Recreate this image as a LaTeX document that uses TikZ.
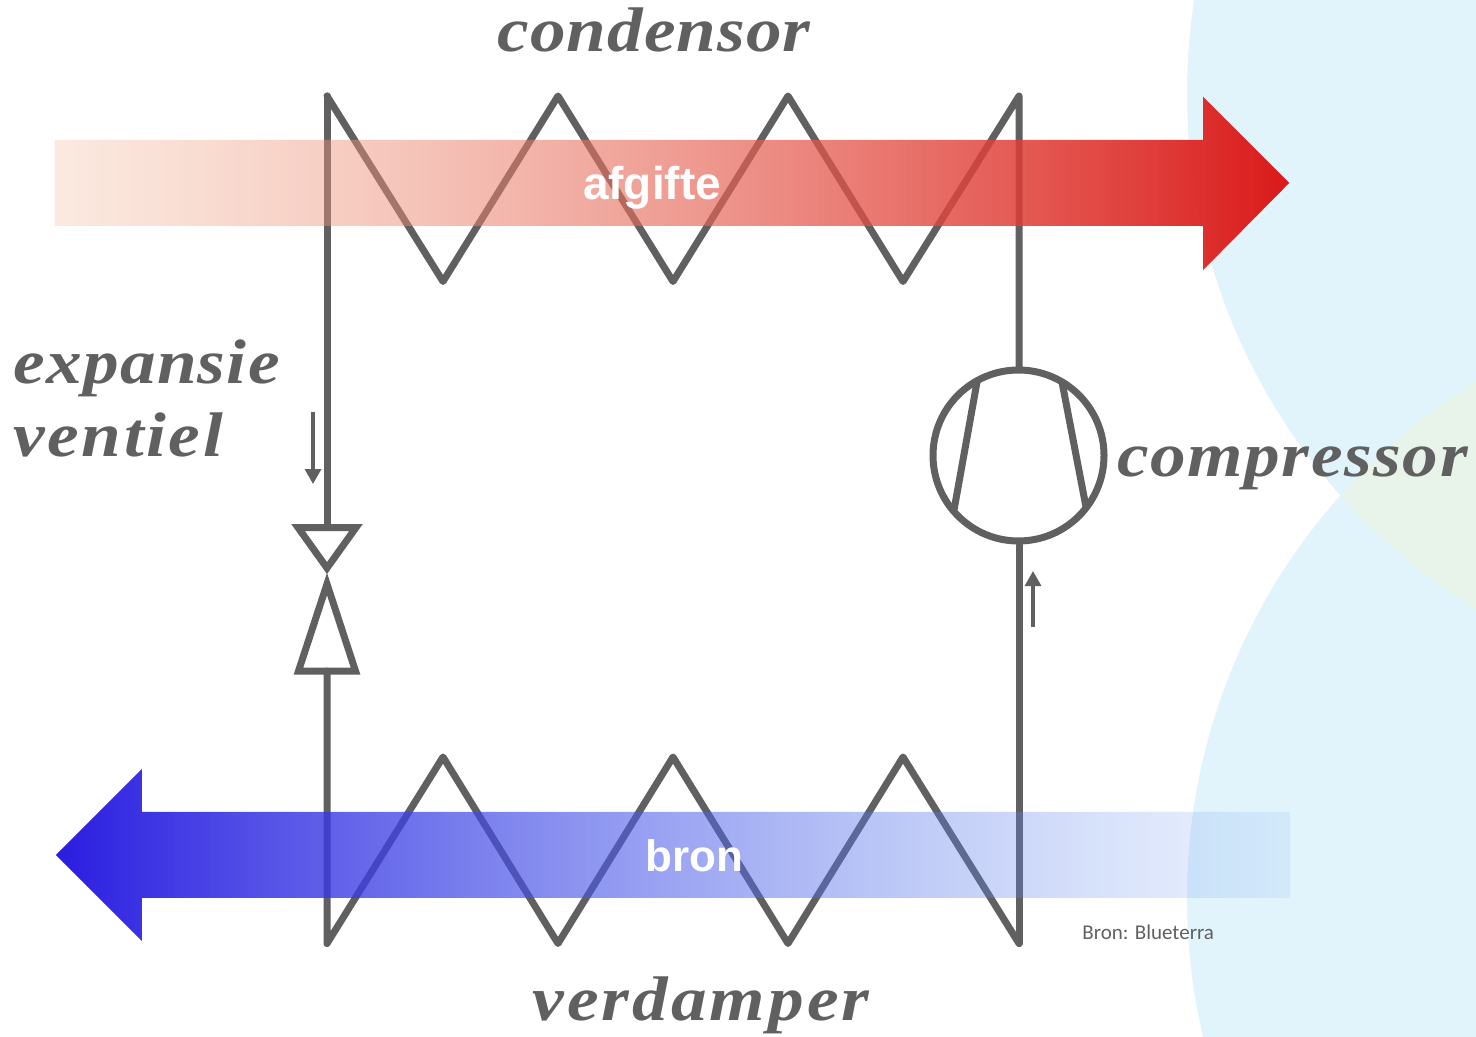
\documentclass[tikz,border=0pt]{standalone}
\usepackage{fontspec}
\setmainfont{Liberation Serif}
\newfontfamily\lblfont[FakeStretch=1.13,LetterSpace=1.7]{Liberation Serif Bold Italic}
\newfontfamily\arrowfont{Liberation Sans}
\newfontfamily\srcfont{Carlito}
\usetikzlibrary{fadings,arrows.meta}
\definecolor{ink}{HTML}{606060}
\definecolor{skyb}{HTML}{E1F4FC}
\definecolor{mintg}{HTML}{E8F4E9}
\definecolor{redL}{HTML}{F2B698}
\definecolor{redR}{HTML}{DA1A1A}
\definecolor{bluL}{HTML}{2A1CE0}
\definecolor{bluR}{HTML}{6FA0F0}
\tikzfading[name=fadeRed, left color=transparent!70, right color=transparent!0]
\tikzfading[name=fadeBlue, left color=transparent!0, middle color=transparent!35, right color=transparent!88]
\tikzset{
  pipe/.style={draw=ink, line width=3.5pt, line join=round, line cap=round},
  valvetri/.style={pipe, line join=miter, miter limit=8},
  thin arrow/.style={draw=ink, line width=1.6pt, -{Triangle[length=7.5pt,width=8pt]}},
  lbl/.style={text=ink, inner sep=0pt, anchor=base west, font=\fontsize{31.5}{31.5}\selectfont\lblfont},
  onarrow/.style={text=white, inner sep=0pt, anchor=base, font=\fontsize{23}{23}\selectfont\arrowfont\bfseries},
  src/.style={text=ink, inner sep=0pt, anchor=base west, font=\fontsize{10.5}{10.5}\selectfont\srcfont}
}
\begin{document}
\begin{tikzpicture}[x=0.5pt,y=-0.5pt]
\useasboundingbox (0,0) rectangle (1476,1037);
% background shapes
\begin{scope}
  \clip (0,0) rectangle (1476,1037);
  \fill[skyb] (1792,93) circle[radius=302.5pt];
  \fill[skyb] (1792,898) circle[radius=302.5pt];
  \begin{scope}
    \clip (1792,93) circle[radius=302.5pt];
    \fill[mintg] (1792,898) circle[radius=302.5pt];
  \end{scope}
\end{scope}
% points of the circuit
\foreach \n/\x/\y in {a0/327/96,a1/443/281.5,a2/558/96,a3/673/281.5,a4/788/96,a5/903/281.5,a6/1019/96,
  b0/327/943.5,b1/443/757,b2/558/943.5,b3/673/757,b4/788/943.5,b5/903/757,b6/1019/943.5}
  \coordinate (\n) at (\x,\y);
\coordinate (ctop) at (1019,367);
\coordinate (cbot) at (1019,545);
\coordinate (vt) at (327,527);
\coordinate (vb) at (327,671);
% circuit
\draw[pipe] (a0) -- (a1) -- (a2) -- (a3) -- (a4) -- (a5) -- (a6) -- (ctop);
\draw[pipe] (vt) -- (a0);
\draw[pipe] (b6) -- (b5) -- (b4) -- (b3) -- (b2) -- (b1) -- (b0) -- (vb);
\draw[pipe] (b6) -- (cbot);
% valve
\draw[valvetri] (298,527.5) -- (356,527.5) -- (327,568) -- cycle;
\draw[valvetri] (298.5,671) -- (355.5,671) -- (327,584) -- cycle;
% compressor
\draw[pipe] (1018.5,455.5) circle[radius=42.75pt];
\draw[pipe] (977,382) -- (954,510);
\draw[pipe] (1062,382) -- (1086,507);
% small arrows
\coordinate (f1) at (313,412); \coordinate (f2) at (313,484);
\coordinate (g1) at (1033,627); \coordinate (g2) at (1033,571);
\draw[thin arrow] (f1) -- (f2);
\draw[thin arrow] (g1) -- (g2);
% heat arrows
\shade[left color=redL, right color=redR, path fading=fadeRed]
  (55,140) -- (1204,140) -- (1204,97) -- (1290,183) -- (1204,270) -- (1204,226) -- (55,226) -- cycle;
\shade[left color=bluL, right color=bluR, path fading=fadeBlue]
  (1290,812) -- (142,812) -- (142,769) -- (56,855) -- (142,941) -- (142,898) -- (1290,898) -- cycle;
% labels
\node[onarrow] (afg) at (652,200) {afgifte};
\node[onarrow,font=\fontsize{22}{22}\selectfont\arrowfont\bfseries] (brn) at (694,871) {bron};
\node[lbl] (cond) at (497,52) {condensor};
\node[lbl] (exp) at (13,383) {\addfontfeatures{LetterSpace=2.1}expansie};
\node[lbl] (ven) at (13,456) {\addfontfeatures{LetterSpace=4.2}ventiel};
\node[lbl] (comp) at (1117,476) {\addfontfeatures{LetterSpace=2.5}compressor};
\node[lbl] (verd) at (532,1020) {\addfontfeatures{LetterSpace=4.9}verdamper};
\node[src] (bron) at (1082,939) {Bron: Blueterra};
\end{tikzpicture}
\end{document}
